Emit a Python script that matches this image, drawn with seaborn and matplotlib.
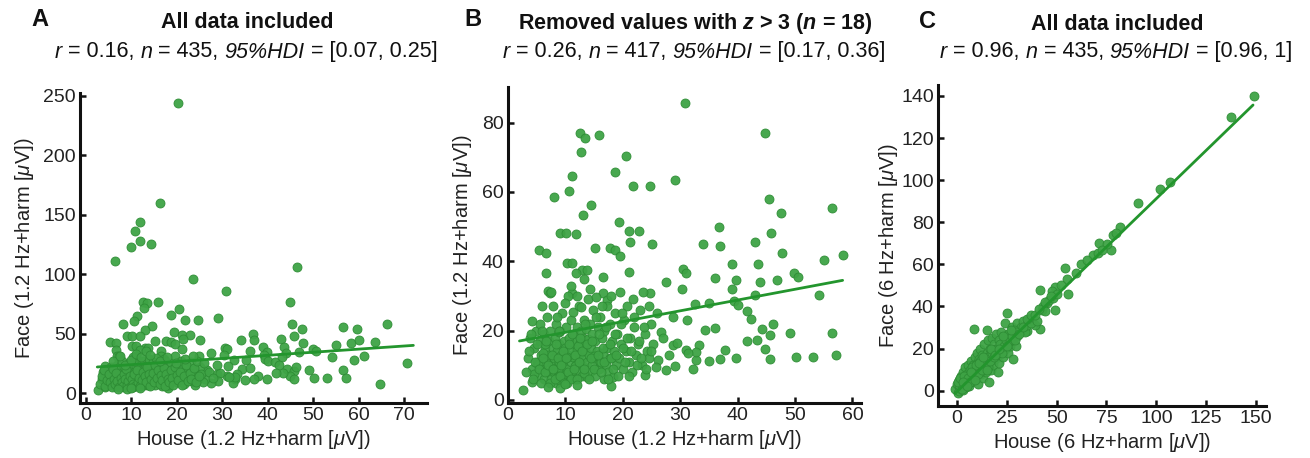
"""Face vs house responses (1.2 Hz and 6 Hz), three scatter panels."""

import matplotlib

matplotlib.use("Agg")
import matplotlib.pyplot as plt
import pandas as pd
import seaborn as sns
from matplotlib.offsetbox import AnnotationBbox, HPacker, TextArea

# --------------------------------------------------------------------------- #
# Data
# --------------------------------------------------------------------------- #

# 1.2 Hz, values kept after removing z > 3 (panel B)
house_12 = [
    30.8, 12.5, 13.4, 15.9, 12.8, 20.5, 18.7, 29.1, 11.2, 21.7, 24.7, 10.6, 8.1,
    14.5, 13.1, 44.8, 45.4, 47.6, 56.5, 36.8, 19.4, 21.1, 22.8, 9.1, 10.1, 11.9,
    25.1, 34.0, 36.9, 43.0, 45.8, 5.4, 6.6, 15.1, 17.7, 18.6, 19.5, 21.3, 47.7,
    58.3, 55.1, 49.9, 50.6, 30.5, 31.0, 21.1, 43.5, 39.0, 10.2, 11.1, 12.9, 13.7,
    6.7, 11.9, 16.6, 36.1, 39.8, 43.9, 46.9, 54.2, 27.6, 24.8, 30.4, 39.1, 43.1,
    16.6, 17.2, 6.9, 11.1, 32.6, 35.1, 39.4, 40.1, 41.6, 42.4, 44.2, 45.7, 46.1,
    49.1, 56.5, 50.2, 53.1, 57.2, 44.8, 45.7, 43.3, 41.7, 37.8, 36.9, 39.8, 34.3,
    36.1, 35.0, 32.7, 32.3, 33.3, 32.8, 31.0, 31.4, 28.8, 29.5, 29.1, 27.6, 26.2,
    26.6, 28.8, 31.2, 23.9, 2.7, 4.1, 4.1, 7.3, 3.5, 3.8, 4.2, 4.5, 4.8, 5.0, 5.2,
    5.5, 5.6, 5.8, 6.0, 6.2, 6.3, 6.5, 6.7, 6.8, 7.0, 7.1, 7.2, 7.4, 7.5, 7.6,
    7.8, 7.9, 8.0, 8.1, 8.2, 8.3, 8.4, 8.5, 8.6, 8.7, 8.8, 8.9, 9.0, 9.1, 9.2,
    9.3, 9.4, 9.5, 9.6, 9.7, 9.8, 9.9, 10.0, 10.1, 10.2, 10.3, 10.4, 10.5, 10.6,
    10.8, 10.9, 11.0, 11.1, 11.2, 11.3, 11.4, 11.5, 11.6, 11.8, 11.9, 12.0, 12.1,
    12.2, 12.3, 12.4, 12.5, 12.6, 12.7, 12.8, 12.9, 13.0, 13.1, 13.2, 13.3, 13.4,
    13.5, 13.6, 13.7, 13.8, 13.9, 14.0, 14.1, 14.2, 14.3, 14.4, 14.6, 14.7, 14.8,
    15.0, 15.1, 15.2, 15.4, 15.5, 15.6, 15.8, 16.0, 16.1, 16.3, 16.5, 16.7, 16.8,
    17.0, 17.2, 17.3, 17.5, 17.7, 17.8, 18.0, 18.1, 18.3, 18.5, 18.7, 18.9, 19.0,
    19.3, 19.5, 19.7, 20.0, 20.2, 20.5, 20.8, 21.0, 21.3, 21.6, 22.0, 22.3, 22.7,
    23.0, 23.4, 23.8, 24.2, 24.6, 25.0, 25.3, 25.7, 5.3, 6.1, 7.7, 8.9, 9.5,
    10.7, 11.7, 12.6, 13.3, 14.9, 16.2, 4.6, 6.4, 8.8, 10.3, 12.2,
    3.2, 3.6, 4.0, 4.3, 4.7, 5.1, 5.4, 5.7, 5.9, 6.1, 6.4, 6.6, 6.9, 7.3, 7.7,
    7.9, 8.2, 8.4, 8.7, 8.9, 9.1, 9.3, 9.6, 9.8, 10.1, 10.4, 10.6, 10.9, 11.2,
    11.5, 11.7, 12.0, 12.3, 12.6, 12.9, 13.2, 13.5, 13.8, 14.1, 14.4, 14.7, 15.0,
    15.3, 15.6, 15.9, 16.2, 16.5, 16.8, 17.1, 17.4, 17.7, 18.0, 18.3, 18.6, 18.9,
    19.2, 19.6, 20.0, 20.3, 20.7, 21.1, 21.5, 21.9, 22.4, 22.8, 23.2, 23.7, 24.1,
    24.5, 24.9, 6.0, 7.5, 8.6, 9.9, 11.0, 12.1, 13.3, 14.2, 16.4, 17.9, 19.9,
    21.8, 23.6, 26.0, 27.0, 28.0, 9.0, 10.0, 7.0, 12.0,
]
face_12 = [
    85.8, 76.9, 75.5, 76.4, 71.6, 70.4, 65.7, 63.5, 64.6, 61.7, 61.7, 60.3, 58.5,
    56.2, 53.4, 76.9, 57.9, 54.0, 55.3, 50.0, 51.2, 48.6, 48.8, 48.3, 48.1, 47.9,
    45.0, 45.0, 44.5, 45.7, 48.3, 43.3, 42.5, 43.8, 43.8, 43.3, 41.6, 45.5, 42.3,
    41.8, 40.4, 36.7, 35.4, 37.7, 36.7, 36.8, 39.1, 39.1, 39.4, 39.6, 37.5, 37.5,
    36.5, 36.5, 35.6, 35.1, 34.6, 34.1, 34.6, 30.3, 33.9, 30.8, 32.0, 31.9, 30.3,
    30.8, 28.9, 31.3, 30.8, 27.6, 28.1, 28.4, 27.3, 25.7, 23.3, 20.4, 18.8, 21.9,
    19.2, 19.2, 12.5, 12.5, 12.9, 14.6, 11.9, 17.2, 17.0, 14.4, 11.9, 12.2, 20.2,
    20.7, 11.3, 11.5, 8.8, 15.8, 13.9, 14.4, 13.5, 15.9, 16.5, 9.9, 8.7, 11.5,
    19.7, 24.0, 23.1, 7.1, 2.9, 5.3, 22.9, 30.8, 12.0, 18.0, 9.0, 15.0, 20.0,
    11.0, 7.0, 17.0, 22.0, 13.0, 9.0, 19.0, 6.0, 15.0, 11.0, 24.0, 8.0, 17.0,
    13.0, 20.0, 6.0, 10.0, 15.0, 27.0, 8.0, 12.0, 18.0, 5.0, 22.0, 9.5, 14.0,
    7.0, 16.0, 11.0, 5.5, 20.0, 8.5, 13.0, 25.0, 6.5, 10.0, 17.0, 12.0, 7.5,
    15.0, 21.0, 9.0, 5.0, 30.0, 13.0, 18.0, 7.0, 11.0, 23.0, 16.0, 8.0, 25.5,
    12.5, 19.0, 6.0, 14.0, 10.0, 21.0, 17.0, 8.5, 27.0, 13.0, 15.5, 11.0, 20.0,
    26.9, 7.0, 18.0, 12.0, 23.0, 9.5, 16.0, 14.0, 20.5, 6.5, 11.0, 29.0, 17.5,
    13.0, 8.0, 22.0, 15.0, 10.0, 19.0, 26.0, 12.0, 7.0, 17.0, 29.8, 14.0, 21.0,
    9.0, 24.0, 11.0, 18.0, 13.5, 6.0, 20.0, 10.0, 15.0, 27.0, 8.0, 12.0, 22.0,
    4.0, 17.0, 6.5, 14.0, 25.0, 10.0, 19.0, 12.0, 31.0, 16.0, 9.0, 23.0, 14.0,
    27.0, 11.0, 18.0, 8.0, 21.0, 13.0, 16.0, 26.0, 10.0, 19.0, 14.0, 12.0, 22.0,
    16.0, 9.5, 10.5, 13.5, 9.0, 6.8, 11.5, 14.5, 9.8, 16.5, 7.8, 12.8, 10.8,
    7.5, 16.0, 19.5, 12.3, 15.5,
    8.0, 14.0, 19.0, 6.0, 11.0, 16.0, 9.0, 5.0, 20.0, 12.0, 8.0, 17.0, 10.0,
    5.0, 13.0, 9.0, 6.0, 16.0, 12.0, 20.0, 7.0, 10.0, 14.0, 5.0, 12.0, 8.0,
    16.0, 6.0, 19.0, 9.0, 13.0, 6.0, 11.0, 18.0, 14.0, 9.0, 22.0, 16.0, 6.0,
    12.0, 17.0, 9.0, 24.0, 13.0, 19.0, 8.0, 15.0, 11.0, 21.0, 6.0, 16.0, 12.0,
    9.0, 19.0, 13.0, 7.0, 22.0, 15.0, 11.0, 18.0, 7.0, 14.0, 24.0, 10.0, 17.0,
    12.0, 21.0, 9.0, 27.0, 14.0, 27.0, 31.0, 24.0, 28.0, 33.0, 30.0, 35.0, 32.0,
    27.0, 30.0, 25.0, 29.0, 31.0, 25.0, 18.0, 13.0, 3.5, 4.5, 3.8, 4.2,
]

# the 18 values with z > 3, only in panel A
house_12_out = [20.2, 16.3, 11.8, 10.8, 12.0, 14.3, 9.9, 6.4, 46.4, 23.5,
                59.5, 60.0, 61.2, 63.6, 64.7, 66.2, 70.5, 59.0]
face_12_out = [244.0, 160.0, 144.0, 136.0, 128.0, 125.0, 123.0, 111.0, 106.0,
               95.6, 54.0, 45.0, 31.0, 43.0, 8.0, 58.0, 25.5, 28.0]

# 6 Hz, all values (panel C)
house_6 = [
    148.8, 137.3, 107.1, 102.0, 91.0, 82.0, 78.2, 77.4, 71.4, 75.2, 68.4, 70.6,
    59.5, 54.1, 55.3, 55.6, 49.3, 47.6, 41.7, 49.3, 45.4, 42.6, 36.6, 41.7, 39.2,
    25.2, 8.6, 15.0, 34.9, 28.9, -1.0, 0.0, 0.5, 1.0, 1.0, 1.5, 2.0, 2.0, 2.5,
    3.0, 3.0, 3.5, 4.0, 4.0, 4.5, 5.0, 5.0, 5.5, 6.0, 6.0, 6.5, 7.0, 7.0, 7.5,
    8.0, 8.5, 9.0, 9.0, 9.5, 10.0, 10.0, 10.5, 11.0, 11.0, 11.5, 12.0, 12.0,
    12.5, 13.0, 13.0, 13.5, 14.0, 14.5, 15.0, 15.0, 15.5, 16.0, 16.0, 16.5, 17.0,
    17.0, 17.5, 18.0, 18.0, 18.5, 19.0, 19.5, 20.0, 20.0, 20.5, 21.0, 21.0, 22.0,
    22.0, 22.5, 23.0, 23.5, 24.0, 24.0, 25.0, 25.5, 26.0, 26.5, 27.0, 27.5, 28.0,
    28.0, 29.0, 29.5, 30.0, 30.0, 31.0, 32.0, 33.0, 34.0, 35.0, 36.0, 37.0, 38.0,
    40.0, 43.0, 44.0, 46.0, 48.0, 50.0, 1.2, 2.8, 3.8, 5.8, 6.8, 8.2, 9.8, 11.8,
    13.8, 15.8, 18.8, 21.5, 23.8, 26.8,
    0.5, 1.5, 2.5, 3.5, 4.5, 5.5, 6.5, 7.5, 8.5, 9.5, 10.5, 11.5, 12.5, 13.5,
    14.5, 15.5, 16.5, 17.5, 18.5, 19.5, 20.5, 21.5, 22.5, 23.5, 24.5, 25.5, 26.5,
    27.5, 28.5, 29.5, 3.0, 5.0, 7.0, 9.0, 11.0, 13.0, 15.0, 17.0, 19.0, 21.0,
    23.0, 25.0, 27.0, 29.0, 31.0, 33.0, 35.0, 37.0, 39.0, 41.0, 44.0, 47.0, 52.0,
    62.0, 65.0, 73.0, 80.0,
]
face_6 = [
    140.0, 130.2, 99.3, 95.6, 89.0, 77.9, 73.9, 66.8, 70.0, 69.6, 64.3, 65.2,
    56.0, 58.3, 52.8, 45.7, 49.2, 47.5, 47.7, 38.2, 41.4, 38.2, 33.5, 29.5, 31.1,
    36.7, 29.5, 28.8, 28.3, 25.8, 1.0, 3.0, -1.0, 5.0, 0.0, 2.0, 7.0, 1.0, 4.0,
    0.5, 9.0, 3.0, 6.0, 11.0, 1.5, 4.0, 8.0, 12.0, 2.0, 6.5, 10.0, 4.0, 14.0,
    8.0, 12.0, 5.0, 9.5, 16.0, 7.0, 13.0, 18.0, 3.0, 10.0, 15.0, 20.0, 8.0, 12.5,
    17.0, 6.0, 11.0, 22.0, 14.0, 9.0, 18.0, 12.0, 24.0, 16.0, 4.0, 20.0, 10.0,
    14.0, 25.0, 18.0, 12.0, 22.0, 15.0, 27.0, 20.0, 17.0, 9.0, 24.0, 13.0, 19.0,
    28.0, 22.0, 16.0, 25.0, 20.0, 32.0, 23.0, 18.0, 27.0, 21.0, 25.0, 30.0, 15.0,
    24.0, 27.0, 21.0, 26.0, 32.0, 29.0, 30.0, 33.0, 28.0, 31.0, 34.0, 32.0, 35.0,
    33.0, 40.0, 38.0, 43.0, 44.0, 46.0, 2.5, 1.5, 5.5, 4.5, 8.5, 6.5, 10.5, 9.0,
    13.5, 11.0, 17.5, 19.5, 21.0, 23.5,
    4.0, 6.0, 1.0, 7.0, 3.0, 6.0, 4.0, 11.0, 9.0, 12.0, 8.0, 14.0, 10.0, 15.0,
    13.0, 16.0, 14.0, 18.0, 16.0, 20.0, 18.0, 22.0, 18.0, 21.0, 24.0, 27.0, 24.0,
    26.0, 29.0, 28.0, 4.0, 2.0, 9.0, 5.0, 13.0, 16.0, 10.0, 20.0, 17.0, 20.0,
    26.0, 21.0, 29.0, 24.0, 27.0, 30.0, 34.0, 36.0, 36.0, 39.0, 42.0, 45.0, 50.0,
    60.0, 62.0, 67.0, 75.0,
]

# least-squares lines as drawn in the reference
fit_a_x = [2.5, 72.0]
fit_a_y = [21.9, 40.1]
fit_b_x = [2.0, 58.3]
fit_b_y = [17.0, 34.5]
fit_c_x = [-1.0, 148.5]
fit_c_y = [-1.4, 135.7]

# --------------------------------------------------------------------------- #
# Styling
# --------------------------------------------------------------------------- #

sns.set_style("ticks")
plt.rcParams["font.family"] = ["Liberation Sans", "DejaVu Sans"]
plt.rcParams["mathtext.fontset"] = "custom"
plt.rcParams["mathtext.rm"] = "Liberation Sans"
plt.rcParams["mathtext.it"] = "Liberation Sans:italic"
plt.rcParams["mathtext.bf"] = "Liberation Sans:bold"
plt.rcParams["mathtext.bfit"] = "Liberation Sans:italic:bold"

DOT = "#3ea345"
DOT_EDGE = "#2d8c34"
LINE = "#23952d"
TXT = "#222222"

W, H = 1310, 458
fig = plt.figure(figsize=(W / 100, H / 100), dpi=100)


def px_axes(left, top, right, bottom):
    """Add axes from pixel box (top-left origin)."""
    return fig.add_axes([left / W, 1 - bottom / H, (right - left) / W, (bottom - top) / H])


def style_axes(ax, xlim, ylim, xticks, yticks, xlabel, ylabel, ypad):
    ax.set_xlim(xlim)
    ax.set_ylim(ylim)
    ax.set_xticks(xticks)
    ax.set_yticks(yticks)
    ax.set_xlabel(xlabel, fontsize=14.5, color=TXT, labelpad=3)
    ax.set_ylabel(ylabel, fontsize=14.5, color=TXT, labelpad=ypad)
    sns.despine(ax=ax)
    for side in ("left", "bottom"):
        ax.spines[side].set_linewidth(2.2)
        ax.spines[side].set_color("#111111")
    ax.tick_params(direction="in", length=4, width=1.8, labelsize=14,
                   labelcolor=TXT, color="#111111", pad=3)


def draw_panel(ax, x, y, fx, fy):
    df = pd.DataFrame({"house": x, "face": y})
    sns.scatterplot(data=df, x="house", y="face", ax=ax, s=42, color=DOT,
                    edgecolor=DOT_EDGE, linewidth=0.6, alpha=0.95, zorder=2)
    sns.lineplot(x=fx, y=fy, ax=ax, color=LINE, linewidth=2, zorder=3)


label_12 = "House (1.2 Hz+harm [$\\mu$V])"
face_lab_12 = "Face (1.2 Hz+harm [$\\mu$V])"

# Panel A
ax_a = px_axes(80, 93, 427, 403)
draw_panel(ax_a, house_12 + house_12_out, face_12 + face_12_out, fit_a_x, fit_a_y)
style_axes(ax_a, (-1.3, 75), (-8.4, 252.5), range(0, 71, 10), range(0, 251, 50),
           label_12, face_lab_12, 5)

# Panel B
ax_b = px_axes(508, 87, 861, 403)
draw_panel(ax_b, house_12, face_12, fit_b_x, fit_b_y)
style_axes(ax_b, (0, 61.5), (-0.9, 90.3), range(0, 61, 10), range(0, 81, 20),
           label_12, face_lab_12, 6)

# Panel C
ax_c = px_axes(938, 85, 1266, 406)
draw_panel(ax_c, house_6, face_6, fit_c_x, fit_c_y)
style_axes(ax_c, (-9.5, 155), (-7.3, 145.2), range(0, 151, 25), range(0, 141, 20),
           "House (6 Hz+harm [$\\mu$V])", "Face (6 Hz+harm [$\\mu$V])", 1)

# --------------------------------------------------------------------------- #
# Titles and panel letters
# --------------------------------------------------------------------------- #


def fig_text(x, y, s, **kw):
    fig.text(x / W, 1 - y / H, s, ha="center", va="center", color="#111111", **kw)


def stats_line(x, y, r, n, hdi, size=15.5):
    """Subtitle with italic r, n and 95%HDI, built from text pieces."""
    pieces = [("r", "italic"), (f" = {r}, ", "normal"), ("n", "italic"),
              (f" = {n}, ", "normal"), ("95%HDI", "italic"), (f" = {hdi}", "normal")]
    boxes = [TextArea(s, textprops=dict(fontsize=size, color="#111111", style=st))
             for s, st in pieces]
    pack = HPacker(children=boxes, align="baseline", pad=0, sep=0)
    ab = AnnotationBbox(pack, (x / W, 1 - y / H), xycoords="figure fraction",
                        frameon=False, box_alignment=(0.5, 0.5), pad=0)
    fig.add_artist(ab)


fig_text(40, 20, "A", fontsize=17, fontweight="bold")
fig_text(473, 20, "B", fontsize=17, fontweight="bold")
fig_text(928, 21, "C", fontsize=17, fontweight="bold")

fig_text(247, 23, "All data included", fontsize=15.5, fontweight="bold")
fig_text(695, 23, "Removed values with $\\mathbfit{z}$ > 3 ($\\mathbfit{n}$ = 18)",
         fontsize=15.5, fontweight="bold")
fig_text(1117, 24, "All data included", fontsize=15.5, fontweight="bold")

stats_line(246, 52, "0.16", "435", "[0.07, 0.25]")
stats_line(694, 52, "0.26", "417", "[0.17, 0.36]")
stats_line(1116, 52, "0.96", "435", "[0.96, 1]")

fig.savefig("out.png", dpi=100)
